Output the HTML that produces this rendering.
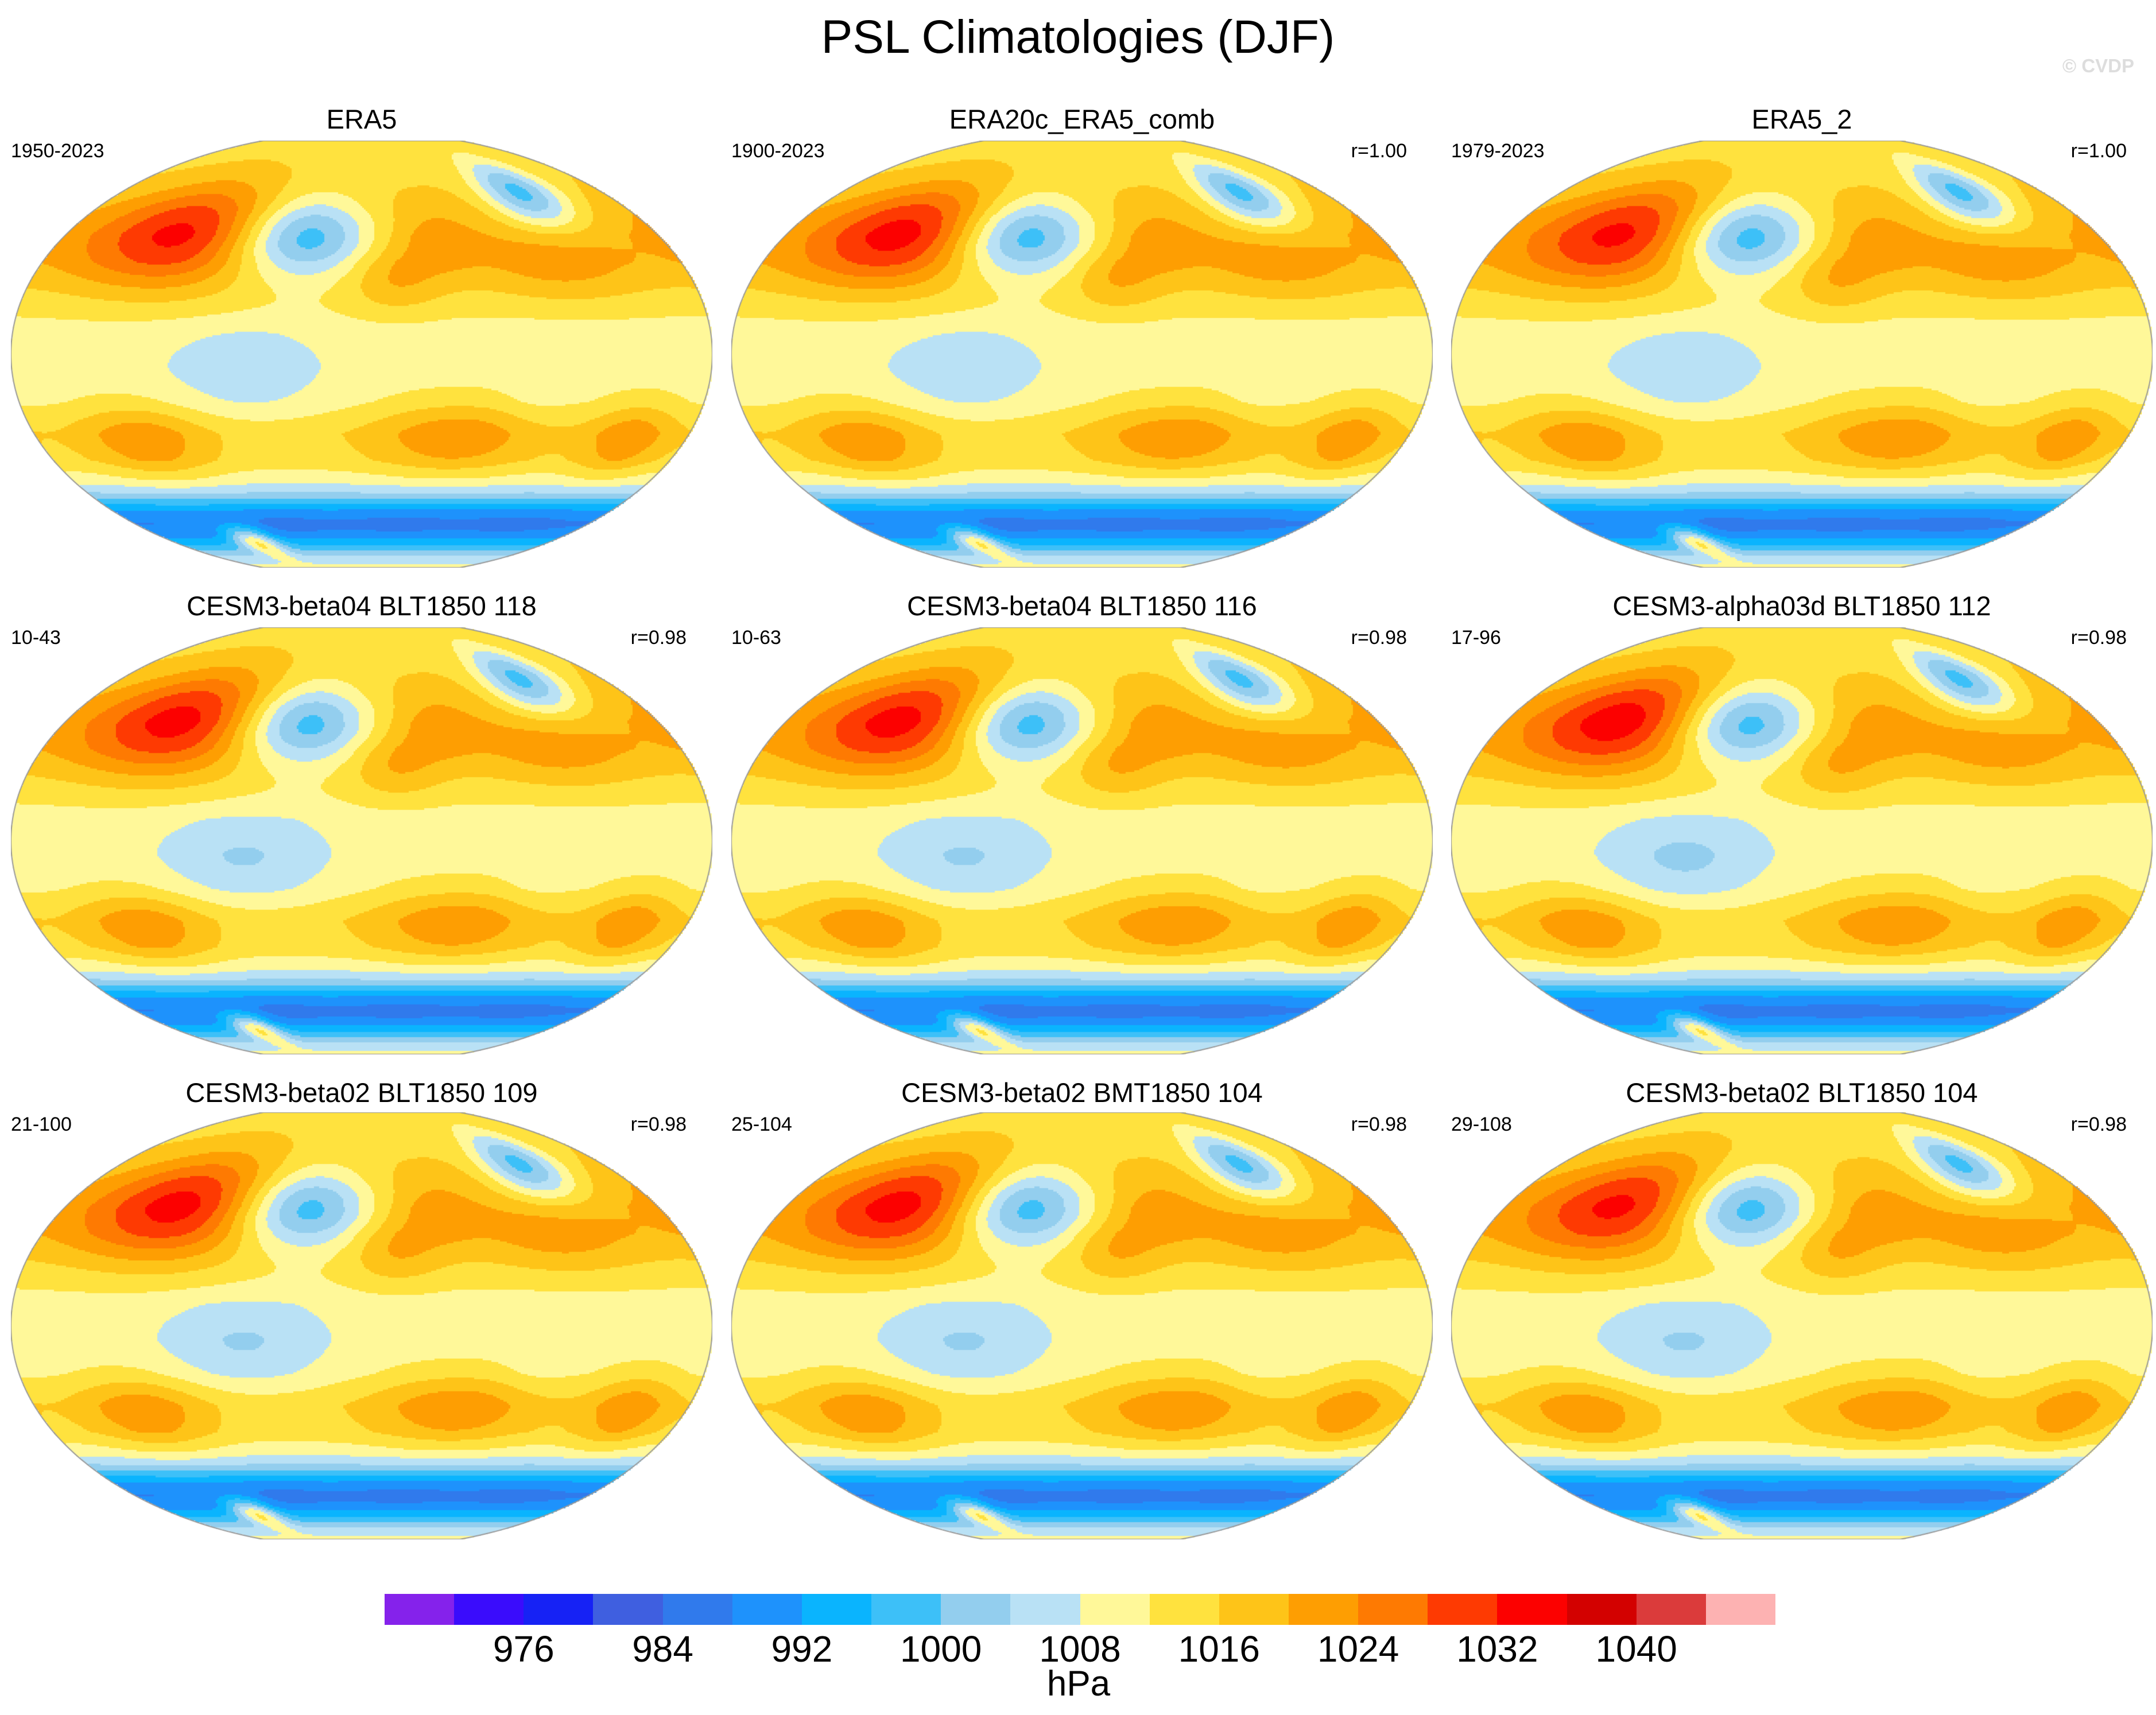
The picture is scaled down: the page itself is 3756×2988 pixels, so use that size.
<!DOCTYPE html>
<html><head><meta charset="utf-8">
<style>
body{margin:0;background:#fff;}
#root{position:relative;width:3756px;height:2988px;overflow:hidden;background:#fff;font-family:"Liberation Sans",sans-serif;color:#000;}
.t{position:absolute;white-space:nowrap;}
.ptitle{font-size:47px;transform:translateX(-50%);}
.lab{font-size:34px;}
canvas{position:absolute;}
.cb{position:absolute;top:2777px;height:54px;}
.tick{position:absolute;top:2836px;font-size:64px;transform:translateX(-50%);}
</style></head>
<body>
<div id="root">
<div class="t" style="left:0;width:3756px;text-align:center;top:18px;font-size:82px;">PSL Climatologies (DJF)</div>
<div class="t" style="right:38px;top:96px;font-size:33px;font-weight:bold;color:#ddd;">© CVDP</div>
<div id="panels"></div>
<div id="cbar"></div>
<div class="t" style="left:1879px;top:2898px;font-size:62px;transform:translateX(-50%);">hPa</div>
</div>
<script>
// ---- data ----
const levelColors=["#8522EB","#3A0CFC","#1622F5","#3F5FE0","#307AEC","#1E92FC","#0AB4FE","#3DC0F8","#93CEEE","#B9E1F5","#FFF899","#FFE23E","#FEC418","#FE9E02","#FE7A02","#FE3A02","#FC0100","#D30100","#DB3B3B","#FDB2B2"];
const levelStart=968; const levelStep=4;
const tickLabels=[976,984,992,1000,1008,1016,1024,1032,1040];
const panelTitles=["ERA5","ERA20c_ERA5_comb","ERA5_2","CESM3-beta04 BLT1850 118","CESM3-beta04 BLT1850 116","CESM3-alpha03d BLT1850 112","CESM3-beta02 BLT1850 109","CESM3-beta02 BMT1850 104","CESM3-beta02 BLT1850 104"];
const panelYears=["1950-2023","1900-2023","1979-2023","10-43","10-63","17-96","21-100","25-104","29-108"];
const panelCorr=["","r=1.00","r=1.00","r=0.98","r=0.98","r=0.98","r=0.98","r=0.98","r=0.98"];
// zonal-mean profile (lat, hPa)
const zonalLat=[90,75,65,55,45,35,22,8,-5,-18,-30,-40,-47,-52,-56,-60,-65,-70,-75,-82,-90];
const zonalVal=[1014,1015,1016,1018,1019,1018,1014,1010,1010,1011,1015,1014,1010,1005,998,992,988,989,996,1006,1010];
// pressure centres: lon, lat, amplitude, sigma-lon, sigma-lat
const centerLon=[102,175,327,227,320,255,262,357,89,149,109,140,240,330,300];
const centerLat=[45,44,61,28,33,42,-31,-32,-33,-7,-73,-64,-63,-63,-15];
const centerAmp=[15,-22,-18,6,5,4,8.5,8.5,8.5,-5,18,-2,-2,-2,-1.5];
const centerSx=[38,30,20,18,30,15,32,16,24,30,14,30,30,30,12];
const centerSy=[14,11,10,9,10,8,10,10,10,12,5,4,4,4,12];
// per-panel scaling of centres (Siberian high, Australian low)
const panelSib=[1,1.05,1,1.05,1.05,1.1,1.05,1.05,1];
const panelAus=[1,1,1,1.3,1.3,1.4,1.3,1.3,1.3];

// ---- layout ----
const colC=[630,1885,3139], rowC=[617,1465,2310], RX=611, RY=372;
const titleY=[180,1028,1876], labY=[244,1092,1940];
const robY=[0,0.062,0.124,0.186,0.248,0.31,0.372,0.434,0.4958,0.5571,0.6176,0.6769,0.7346,0.7903,0.8435,0.8936,0.9394,0.9761,1.0];
function latFromNy(ny){const a=Math.abs(ny);for(let i=1;i<robY.length;i++){if(a<=robY[i]){const f=(a-robY[i-1])/(robY[i]-robY[i-1]);return Math.sign(ny)*(5*(i-1)+5*f);}}return Math.sign(ny)*90;}
function zonal(lat){for(let i=1;i<zonalLat.length;i++){if(lat>=zonalLat[i]){const f=(lat-zonalLat[i])/(zonalLat[i-1]-zonalLat[i]);return zonalVal[i]+f*(zonalVal[i-1]-zonalVal[i]);}}return zonalVal[zonalVal.length-1];}
function field(lon,lat,p){let v=zonal(lat);
 for(let k=0;k<centerLon.length;k++){let d=((lon-centerLon[k])%360+540)%360-180;let dy=lat-centerLat[k];
  let a=centerAmp[k]; if(k===0)a*=panelSib[p]; if(k===9)a*=panelAus[p];
  v+=a*Math.exp(-0.5*((d/centerSx[k])**2+(dy/centerSy[k])**2));}
 return v;}
function hex(c){return [parseInt(c.slice(1,3),16),parseInt(c.slice(3,5),16),parseInt(c.slice(5,7),16)];}
const rgb=levelColors.map(hex);
const panels=document.getElementById('panels');
function addText(cls,txt,style,name){const d=document.createElement('div');d.className='t '+cls;d.textContent=txt;d.style.cssText=style;
 
 
 panels.appendChild(d);}
const CELL=3;
for(let p=0;p<9;p++){
 const cx=colC[p%3], cy=rowC[Math.floor(p/3)], r=Math.floor(p/3);
 const W=2*RX, H=2*RY;
 const cv=document.createElement('canvas');cv.width=W;cv.height=H;
 cv.style.left=(cx-RX)+'px';cv.style.top=(cy-RY)+'px';
 
 
 panels.appendChild(cv);
 const gw=Math.ceil(W/CELL), gh=Math.ceil(H/CELL);
 const sm=document.createElement('canvas');sm.width=gw;sm.height=gh;
 const sc=sm.getContext('2d');const img=sc.createImageData(gw,gh);
 for(let j=0;j<gh;j++){const ny=1-2*(j+0.5)/gh;const w=Math.sqrt(Math.max(0,1-(0.96*ny)**2));const lat=latFromNy(ny);
  for(let i=0;i<gw;i++){const nx=2*(i+0.5)/gw-1;if(Math.abs(nx)>w)continue;
   const lon=210+nx/w*180;const v=field(lon,lat,p);
   let idx=Math.floor((v-levelStart)/levelStep);idx=Math.max(0,Math.min(19,idx));
   const o=(j*gw+i)*4;img.data[o]=rgb[idx][0];img.data[o+1]=rgb[idx][1];img.data[o+2]=rgb[idx][2];img.data[o+3]=255;}}
 sc.putImageData(img,0,0);
 const ctx=cv.getContext('2d');ctx.imageSmoothingEnabled=false;ctx.drawImage(sm,0,0,gw*CELL,gh*CELL);
 ctx.strokeStyle='#999';ctx.lineWidth=2;ctx.beginPath();
 for(let j=0;j<=200;j++){const ny=1-2*j/200;const w=Math.sqrt(1-(0.96*ny)**2);const x=RX+w*RX,y=RY-ny*RY;j?ctx.lineTo(x,y):ctx.moveTo(x,y);}
 for(let j=200;j>=0;j--){const ny=1-2*j/200;const w=Math.sqrt(1-(0.96*ny)**2);ctx.lineTo(RX-w*RX,RY-ny*RY);}
 ctx.closePath();ctx.stroke();
 addText('ptitle',panelTitles[p],'left:'+cx+'px;top:'+titleY[r]+'px;','panel-title-'+(p+1));
 addText('lab',panelYears[p],'left:'+(cx-611)+'px;top:'+labY[r]+'px;','panel-years-'+(p+1));
 if(panelCorr[p])addText('lab',panelCorr[p],'left:'+(cx+566)+'px;top:'+labY[r]+'px;transform:translateX(-100%);','panel-correlation-'+(p+1));
}
const cbar=document.getElementById('cbar');const cbX0=670,cbW=2423,bw=cbW/levelColors.length;
levelColors.forEach((c,i)=>{const d=document.createElement('div');d.className='cb';d.style.left=(cbX0+i*bw)+'px';d.style.width=(bw+0.5)+'px';d.style.background=c;
 
 
 cbar.appendChild(d);});
tickLabels.forEach(t=>{const i=(t-levelStart)/levelStep;const d=document.createElement('div');d.className='tick';d.textContent=t;d.style.left=(cbX0+i*bw)+'px';
 
 
 cbar.appendChild(d);});
</script>
</body></html>
